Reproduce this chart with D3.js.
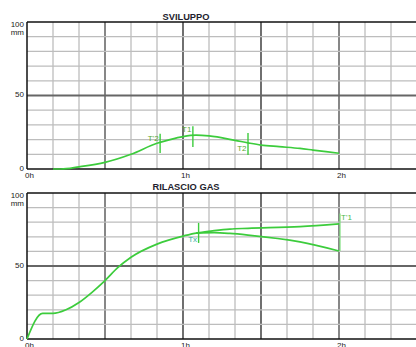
<!DOCTYPE html>
<html><head><meta charset="utf-8">
<script src="https://cdn.jsdelivr.net/npm/d3@7"></script>
<style>html,body{margin:0;padding:0;background:#fff;}svg{display:block;font-family:"Liberation Sans",Arial,sans-serif;}</style>
</head><body>
<script>
// ---- data ----
const titles = ["SVILUPPO", "RILASCIO GAS"];
const yTickLabels = ["0", "50", "100"];
const xTickValues = [0, 60, 120];
const xTickLabels = ["0h", "1h", "2h"];
// top chart (minutes, mm)
const devTime = [10, 13, 20, 30, 40, 50, 55, 60, 65, 70, 80, 85, 90, 97, 105, 110, 120];
const devValue = [0, 0, 1.5, 4.5, 10, 17.5, 20, 22, 23, 22.5, 19.5, 17.8, 16.3, 15.2, 14, 12.9, 10.7];
// bottom chart: common part then two branches
const gasTime = [0, 6, 10, 15, 20, 25, 30, 35, 40, 50, 60, 65];
const gasValue = [0, 17.5, 17.5, 20, 25, 32, 40, 49, 56, 65, 70.5, 72.5];
const gasUpperTime = [65, 72, 78, 85, 105, 120];
const gasUpperValue = [72.5, 74.2, 75.3, 75.8, 77, 78.8];
const gasLowerTime = [65, 72, 78, 85, 105, 120];
const gasLowerValue = [72.5, 72.8, 72.3, 71.2, 66.5, 60.3];
// markers: [label, time, yFrom, yTo]
const devMarkers = [["T'2", 51.2, 10.9, 24], ["T1", 63.8, 15, 29], ["T2", 85, 9.5, 24.5]];
const gasMarkers = [["Tx", 66, 65.8, 79.5]];
const gasEndMark = ["T'1", 120, 60.3, 86];

const W = 416, H = 347;
const svg = d3.select("body").append("svg").attr("width", W).attr("height", H);
const x = d3.scaleLinear().domain([0, 150]).range([27, 417]);
const green = "#3ccc3c";

function panel(top, bottom, title, titleY) {
  const y = d3.scaleLinear().domain([0, 100]).range([bottom, top]);
  const g = svg.append("g");
  // vertical grid
  d3.range(10, 151, 10).forEach(t => {
    let col = "#bdbdbd", w = 1.3;
    if (t === 30 || t === 120) { col = "#7a7a7a"; w = 1.8; }
    if (t === 60 || t === 90) { col = "#222"; w = 1.3; }
    g.append("line").attr("x1", x(t)).attr("x2", x(t)).attr("y1", y(100)).attr("y2", y(0))
      .attr("stroke", col).attr("stroke-width", w);
  });
  // horizontal grid
  d3.range(10, 100, 10).forEach(v => {
    const dark = v === 50;
    g.append("line").attr("x1", x(0)).attr("x2", W).attr("y1", y(v)).attr("y2", y(v))
      .attr("stroke", dark ? "#666" : "#bdbdbd").attr("stroke-width", dark ? 1.8 : 1.3);
  });
  // borders
  g.append("line").attr("x1", x(0)).attr("x2", W).attr("y1", y(100)).attr("y2", y(100)).attr("stroke", "#111").attr("stroke-width", 1.3);
  g.append("line").attr("x1", x(0)).attr("x2", W).attr("y1", y(0)).attr("y2", y(0)).attr("stroke", "#111").attr("stroke-width", 1.3);
  g.append("line").attr("x1", x(0)).attr("x2", x(0)).attr("y1", y(100)).attr("y2", y(0)).attr("stroke", "#111").attr("stroke-width", 1.5);
  // y labels
  yTickLabels.forEach(l => {
    g.append("text").attr("x", 24).attr("y", y(+l) + (l === "100" ? 4.5 : 1.5)).attr("text-anchor", "end")
      .attr("font-size", 8).attr("fill", "#222").text(l);
  });
  g.append("text").attr("x", 24).attr("y", y(100) + 12.5).attr("text-anchor", "end")
    .attr("font-size", 8).attr("fill", "#222").text("mm");
  // x labels
  xTickValues.forEach((t, i) => {
    g.append("text").attr("x", x(t) - 2).attr("y", y(0) + 9).attr("font-size", 8)
      .attr("fill", "#222").text(xTickLabels[i]);
  });
  // title
  g.append("text").attr("x", 186).attr("y", titleY).attr("text-anchor", "middle")
    .attr("font-size", 9.3).attr("font-weight", "bold").attr("fill", "#1e1e2e").text(title);
  return { g, y };
}

const line = (y) => d3.line().x(d => x(d[0])).y(d => y(d[1])).curve(d3.curveMonotoneX);

// top panel
const p1 = panel(22, 169, titles[0], 20);
p1.g.append("path").datum(devTime.map((t, i) => [t, devValue[i]]))
  .attr("d", line(p1.y)).attr("fill", "none").attr("stroke", green).attr("stroke-width", 1.7);
devMarkers.forEach(([lab, t, a, b], i) => {
  p1.g.append("line").attr("x1", x(t)).attr("x2", x(t)).attr("y1", p1.y(a)).attr("y2", p1.y(b))
    .attr("stroke", green).attr("stroke-width", 1.4);
  const ty = i === 2 ? p1.y(a) - 4 : (i === 1 ? p1.y(b) + 6 : p1.y(b) + 7);
  p1.g.append("text").attr("x", x(t) - 1.5).attr("y", ty).attr("text-anchor", "end")
    .attr("font-size", 8).attr("fill", "#5aa830").text(lab);
});

// bottom panel
const p2 = panel(193, 339, titles[1], 189.5);
[[gasTime, gasValue], [gasUpperTime, gasUpperValue], [gasLowerTime, gasLowerValue]].forEach(([ts, vs]) => {
  p2.g.append("path").datum(ts.map((t, i) => [t, vs[i]]))
    .attr("d", line(p2.y)).attr("fill", "none").attr("stroke", green).attr("stroke-width", 1.7);
});
gasMarkers.forEach(([lab, t, a, b]) => {
  p2.g.append("line").attr("x1", x(t)).attr("x2", x(t)).attr("y1", p2.y(a)).attr("y2", p2.y(b))
    .attr("stroke", green).attr("stroke-width", 1.4);
  p2.g.append("text").attr("x", x(t) - 1.5).attr("y", p2.y(a) - 1).attr("text-anchor", "end")
    .attr("font-size", 8).attr("fill", "#2fb0a0").text(lab);
});
p2.g.append("line").attr("x1", x(gasEndMark[1]) + 1).attr("x2", x(gasEndMark[1]) + 1)
  .attr("y1", p2.y(gasEndMark[2])).attr("y2", p2.y(gasEndMark[3]))
  .attr("stroke", "#7fe07f").attr("stroke-width", 1.2);
p2.g.append("text").attr("x", x(gasEndMark[1]) + 2).attr("y", p2.y(gasEndMark[3]) + 7)
  .attr("font-size", 8).attr("fill", "#4cb84c").text(gasEndMark[0]);
</script>
</body></html>
